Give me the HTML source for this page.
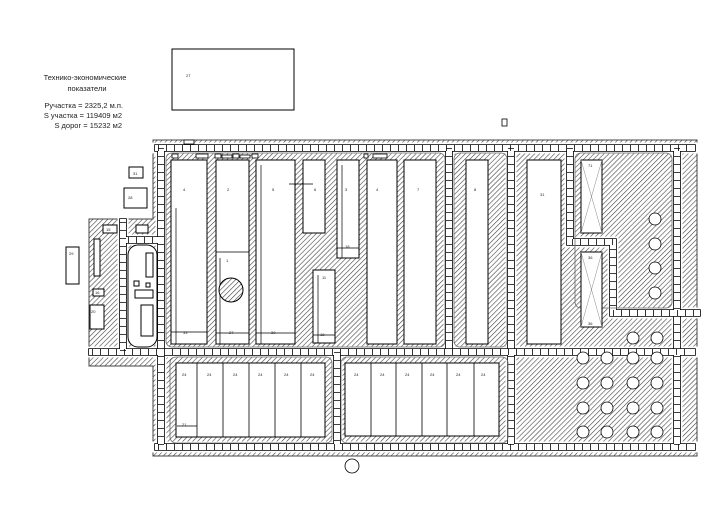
<!DOCTYPE html>
<html><head><meta charset="utf-8"><style>
html,body{margin:0;padding:0;background:#fff;}
svg{display:block;}
text{font-family:"Liberation Sans",sans-serif;fill:#222;}
</style></head><body>
<svg width="724" height="513" viewBox="0 0 724 513" xmlns="http://www.w3.org/2000/svg">
<defs>
<pattern id="h" width="3.5" height="3.5" patternUnits="userSpaceOnUse" patternTransform="rotate(45)">
<rect width="3.5" height="3.5" fill="#fff"/>
<line x1="0" y1="0" x2="0" y2="3.5" stroke="#444" stroke-width="1.2"/>
</pattern>
</defs>
<rect width="724" height="513" fill="#fff"/>

<g font-size="7.5">
<text x="85" y="80" text-anchor="middle">Технико-экономические</text>
<text x="87" y="91" text-anchor="middle">показатели</text>
<text x="123" y="108" text-anchor="end">Pучастка = 2325,2 м.п.</text>
<text x="122" y="118" text-anchor="end">S участка = 119409 м2</text>
<text x="122" y="128" text-anchor="end">S дорог = 15232 м2</text>
</g>
<rect x="172" y="49" width="122" height="61" fill="#fff" stroke="#000"/>
<text x="186" y="77" font-size="4">27</text>
<rect x="502" y="119" width="5" height="7" fill="#fff" stroke="#000" stroke-width="0.8"/>

<polygon points="153,140 697,140 697,456 153,456 153,366 89,366 89,219 153,219" fill="url(#h)" stroke="#444" stroke-width="1"/>

<g fill="none" stroke-linecap="square">
<g stroke="#fff" stroke-width="11">
<path d="M158,148 H692 M158,447 H692 M92,352 H692 M161,148 V447 M677,148 V447 M337,352 V447 M449,148 V352 M511,148 V447 M570,148 V242 H613 V313 H697 M123,222 V352 M128,240 H157"/>
</g>
<g stroke="#000" stroke-width="7.6">
<path d="M158,148 H692 M158,447 H692 M92,352 H692 M161,148 V447 M677,148 V447 M337,352 V447 M449,148 V352 M511,148 V447 M570,148 V242 H613 V313 H697 M123,222 V352 M128,240 H157"/>
</g>
<g stroke="#fff" stroke-width="6">
<path d="M158,148 H692 M158,447 H692 M92,352 H692 M161,148 V447 M677,148 V447 M337,352 V447 M449,148 V352 M511,148 V447 M570,148 V242 H613 V313 H697 M123,222 V352 M128,240 H157"/>
</g>
<g stroke="#000" stroke-width="6" stroke-dasharray="0.8 7.2" stroke-linecap="butt">
<path d="M158,148 H692 M158,447 H692 M92,352 H692 M161,148 V447 M677,148 V447 M337,352 V447 M449,148 V352 M511,148 V447 M570,148 V242 H613 V313 H697 M123,222 V352 M128,240 H157"/>
</g>
</g>

<g fill="none" stroke="#666" stroke-width="0.8">
<rect x="166" y="153" width="279" height="194" rx="6"/>
<rect x="454" y="153" width="53" height="194" rx="6"/>
<rect x="575" y="153" width="97" height="155" rx="6"/>
<rect x="170" y="357" width="162" height="86" rx="6"/>
<rect x="341" y="357" width="167" height="86" rx="6"/>
</g>

<g fill="#fff" stroke="#000" stroke-width="1">
<rect x="171" y="160" width="36" height="184"/>
<rect x="216" y="160" width="33" height="184"/>
<rect x="256" y="160" width="39" height="184"/>
<rect x="303" y="160" width="22" height="73"/>
<rect x="337" y="160" width="22" height="98"/>
<rect x="367" y="160" width="30" height="184"/>
<rect x="404" y="160" width="32" height="184"/>
<rect x="313" y="270" width="22" height="73"/>
<rect x="466" y="160" width="22" height="184"/>
<rect x="527" y="160" width="34" height="184"/>
<rect x="581" y="160" width="21" height="73"/>
<rect x="581" y="252" width="21" height="75"/>
<rect x="176" y="363" width="149" height="74"/>
<rect x="345" y="363" width="154" height="73"/>
<rect x="129" y="167" width="14" height="11"/>
<rect x="124" y="188" width="23" height="20"/>
<rect x="66" y="247" width="13" height="37"/>
<rect x="103" y="225" width="14" height="8"/>
<rect x="136" y="225" width="12" height="8"/>
<rect x="94" y="239" width="6" height="37"/>
<rect x="93" y="289" width="11" height="7"/>
<rect x="90" y="305" width="14" height="24"/>
<rect x="128" y="245" width="29" height="102" rx="10"/>
<rect x="146" y="253" width="7" height="24"/>
<rect x="134" y="281" width="5" height="5"/>
<rect x="146" y="283" width="4" height="4"/>
<rect x="135" y="290" width="18" height="8"/>
<rect x="141" y="305" width="12" height="31"/>
</g>
<g stroke="#000" stroke-width="0.8" fill="none">
<line x1="216" y1="252" x2="249" y2="252"/>
<path d="M197,363V437 M223,363V437 M249,363V437 M275,363V437 M301,363V437"/>
<path d="M371,363V436 M396,363V436 M422,363V436 M447,363V436 M474,363V436"/>
<path d="M581,160 L602,233 M602,160 L581,233 M581,252 L602,327 M602,252 L581,327" stroke="#888" stroke-width="0.5"/>
<path d="M176,208V344 M171,332H207 M220,258V344 M216,333H249 M261,165V344 M256,333H295 M342,165V258 M337,248H359 M318,275V343 M313,335H335 M289,184H313 M177,426H197" stroke-width="0.7"/>
<circle cx="352" cy="466" r="7"/>
</g>
<circle cx="231" cy="290" r="12" fill="url(#h)" stroke="#000"/>

<g fill="#fff" stroke="#000" stroke-width="0.8">
<rect x="172" y="154" width="6" height="4"/><rect x="196" y="154" width="12" height="4"/>
<rect x="215" y="154" width="6" height="4"/><rect x="222" y="155" width="10" height="3"/>
<rect x="233" y="154" width="6" height="4"/><rect x="240" y="155" width="10" height="3"/>
<rect x="252" y="154" width="6" height="4"/><rect x="364" y="154" width="4" height="4"/>
<rect x="373" y="154" width="14" height="4"/><rect x="184" y="140" width="10" height="4"/>
</g>

<g fill="#fff" stroke="#000" stroke-width="0.8">
<circle cx="655" cy="219" r="6"/><circle cx="655" cy="244" r="6"/><circle cx="655" cy="268" r="6"/><circle cx="655" cy="293" r="6"/>
<circle cx="633" cy="338" r="6"/><circle cx="657" cy="338" r="6"/>
<circle cx="583" cy="358" r="6"/><circle cx="607" cy="358" r="6"/><circle cx="633" cy="358" r="6"/><circle cx="657" cy="358" r="6"/>
<circle cx="583" cy="383" r="6"/><circle cx="607" cy="383" r="6"/><circle cx="633" cy="383" r="6"/><circle cx="657" cy="383" r="6"/>
<circle cx="583" cy="408" r="6"/><circle cx="607" cy="408" r="6"/><circle cx="633" cy="408" r="6"/><circle cx="657" cy="408" r="6"/>
<circle cx="583" cy="432" r="6"/><circle cx="607" cy="432" r="6"/><circle cx="633" cy="432" r="6"/><circle cx="657" cy="432" r="6"/>
</g>

<g font-size="4">
<text x="183" y="191">4</text><text x="227" y="191">2</text><text x="272" y="191">5</text><text x="314" y="191">6</text>
<text x="345" y="191">3</text><text x="376" y="191">4</text><text x="417" y="191">7</text><text x="474" y="191">8</text>
<text x="540" y="196">31</text><text x="588" y="167">71</text><text x="588" y="259">36</text><text x="588" y="325">36</text>
<text x="226" y="262">1</text><text x="322" y="279">11</text><text x="133" y="175">31</text><text x="128" y="199">28</text>
<text x="69" y="255">29</text><text x="106" y="231">15</text><text x="95" y="294">16</text><text x="91" y="313">20</text>
<text x="183" y="334">33</text><text x="229" y="334">27</text><text x="271" y="334">30</text><text x="320" y="336">18</text>
<text x="345" y="248">18</text><text x="182" y="426">21</text>
<text x="182" y="376">24</text><text x="207" y="376">24</text><text x="233" y="376">24</text><text x="258" y="376">24</text><text x="284" y="376">24</text><text x="310" y="376">24</text>
<text x="354" y="376">24</text><text x="380" y="376">24</text><text x="405" y="376">24</text><text x="430" y="376">24</text><text x="456" y="376">24</text><text x="481" y="376">24</text>
</g>
</svg>
</body></html>
